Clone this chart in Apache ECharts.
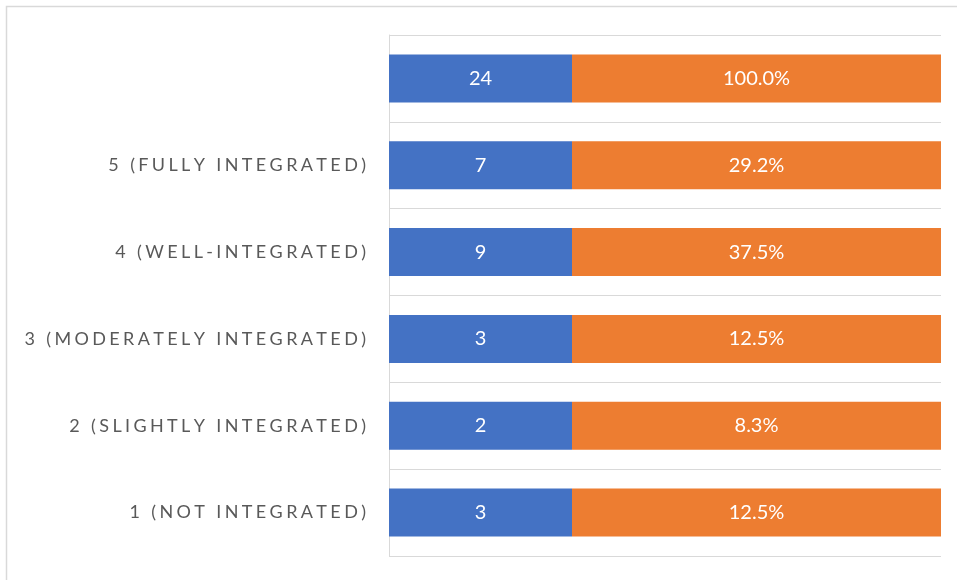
<!DOCTYPE html>
<html>
<head>
<meta charset="utf-8">
<script src="https://cdn.jsdelivr.net/npm/echarts@6/dist/echarts.min.js"></script>
<style>
  html, body { margin: 0; padding: 0; background: #ffffff; }
  #chart { width: 957px; height: 580px; }
</style>
</head>
<body>
<div id="chart"></div>
<script>
// Rows, listed top to bottom (first row is the overall total)
const categories = [
  '',
  '5 (FULLY INTEGRATED)',
  '4 (WELL-INTEGRATED)',
  '3 (MODERATELY INTEGRATED)',
  '2 (SLIGHTLY INTEGRATED)',
  '1 (NOT INTEGRATED)'
];
// Number of responses per row
const counts = [24, 7, 9, 3, 2, 3];
// Share of responses per row, in percent
const percents = [100.0, 29.2, 37.5, 12.5, 8.3, 12.5];

const BLUE = '#4472C4';
const ORANGE = '#ED7D31';
const GRID_LINE = '#d9d9d9';
const LABEL_FONT = 'Lato, "Open Sans", sans-serif';

// Spread the letters of a category label apart with thin spaces
function spaced(s) {
  return Array.from(s).join('\u2009\u200A');
}

const chart = echarts.init(document.getElementById('chart'), null, { renderer: 'canvas' });

const plotTop = 35, plotHeight = 521;

chart.setOption({
  animation: false,
  backgroundColor: '#ffffff',
  graphic: [{
    type: 'rect',
    shape: { x: 6.5, y: 6.5, width: 980, height: 600 },
    style: { fill: 'none', stroke: GRID_LINE, lineWidth: 1.5 },
    silent: true
  }],
  grid: [
    { left: 389, top: plotTop, width: 183, height: plotHeight },
    { left: 572, top: plotTop, right: 16, height: plotHeight }
  ],
  xAxis: [
    // each cell is a fixed-width band; bars reaching past the axis end are clipped at it
    { gridIndex: 0, type: 'value', min: 0, max: 2, show: false },
    { gridIndex: 1, type: 'value', min: 0, max: 8, show: false }
  ],
  yAxis: [
    {
      gridIndex: 0, type: 'category', data: categories, inverse: true,
      axisLine: { show: true, lineStyle: { color: GRID_LINE, width: 1 } },
      axisTick: { show: false },
      splitLine: { show: true, lineStyle: { color: GRID_LINE, width: 1 } },
      axisLabel: {
        margin: 23,
        color: '#595959',
        fontFamily: LABEL_FONT,
        fontSize: 18,
        formatter: v => spaced(v)
      }
    },
    {
      gridIndex: 1, type: 'category', data: categories, inverse: true,
      axisLine: { show: false },
      axisTick: { show: false },
      axisLabel: { show: false },
      splitLine: { show: true, lineStyle: { color: GRID_LINE, width: 1 } }
    }
  ],
  series: [
    {
      name: 'Count', type: 'bar', xAxisIndex: 0, yAxisIndex: 0,
      data: counts, barWidth: 48, clip: true,
      itemStyle: { color: BLUE },
      label: {
        show: true, position: 'inside', color: '#ffffff',
        fontFamily: LABEL_FONT, fontSize: 20,
        formatter: p => String(p.value)
      }
    },
    {
      name: 'Percent', type: 'bar', xAxisIndex: 1, yAxisIndex: 1,
      data: percents, barWidth: 48, clip: true,
      itemStyle: { color: ORANGE },
      label: {
        show: true, position: 'inside', color: '#ffffff',
        fontFamily: LABEL_FONT, fontSize: 20,
        formatter: p => p.value.toFixed(1) + '%'
      }
    }
  ]
});
</script>
</body>
</html>
